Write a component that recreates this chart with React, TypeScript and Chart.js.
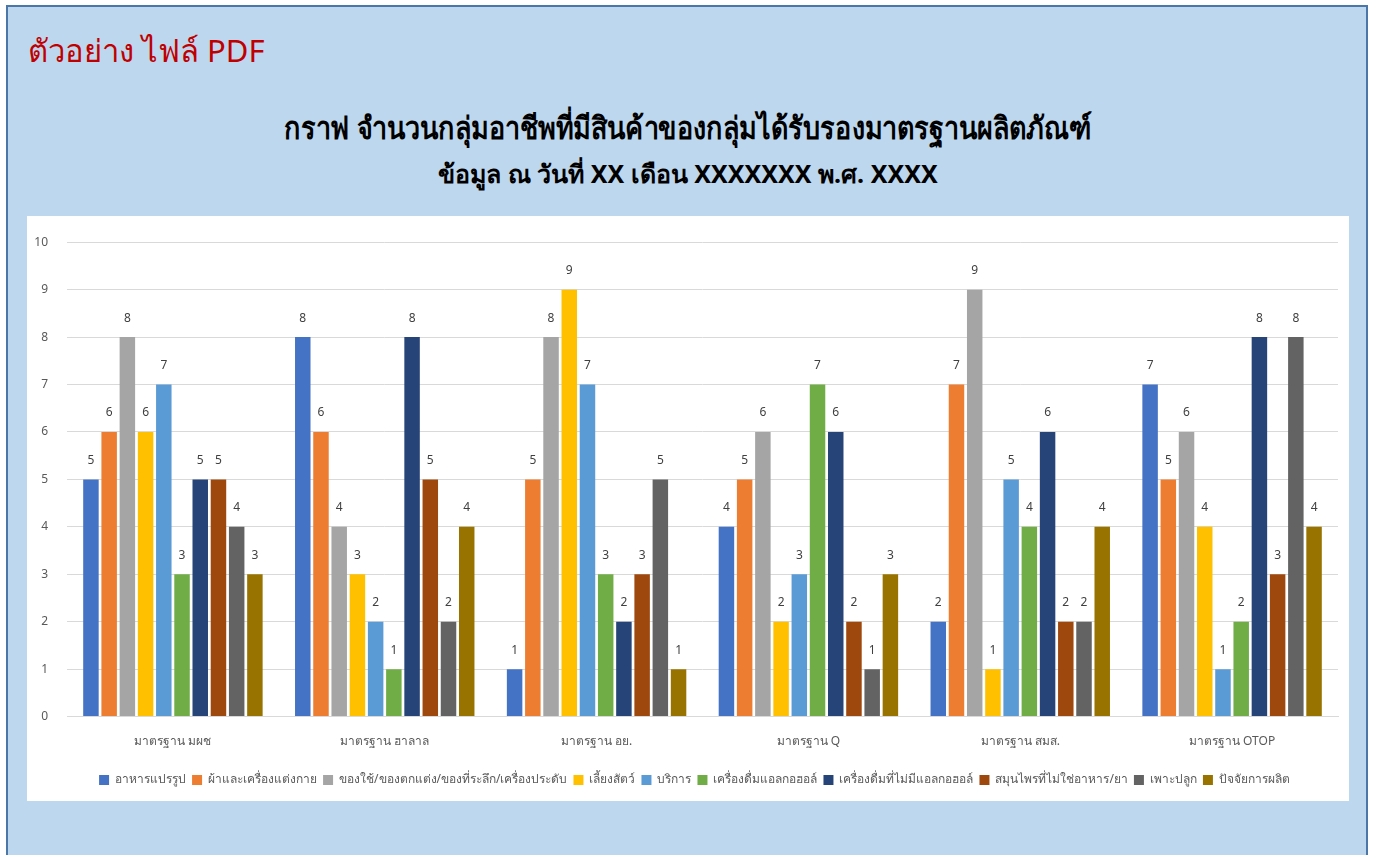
import React, { useEffect, useRef } from "react";
import { Chart, registerables } from "chart.js";

Chart.register(...registerables);

const categories = [
  "มาตรฐาน มผช",
  "มาตรฐาน ฮาลาล",
  "มาตรฐาน อย.",
  "มาตรฐาน Q",
  "มาตรฐาน สมส.",
  "มาตรฐาน OTOP",
];

const seriesNames = [
  "อาหารแปรรูป",
  "ผ้าและเครื่องแต่งกาย",
  "ของใช้/ของตกแต่ง/ของที่ระลึก/เครื่องประดับ",
  "เลี้ยงสัตว์",
  "บริการ",
  "เครื่องดื่มแอลกอฮอล์",
  "เครื่องดื่มที่ไม่มีแอลกอฮอล์",
  "สมุนไพรที่ไม่ใช่อาหาร/ยา",
  "เพาะปลูก",
  "ปัจจัยการผลิต",
];

const foodProcessed = [5, 8, 1, 4, 2, 7];
const textiles = [6, 6, 5, 5, 7, 5];
const souvenirs = [8, 4, 8, 6, 9, 6];
const livestock = [6, 3, 9, 2, 1, 4];
const services = [7, 2, 7, 3, 5, 1];
const alcoholic = [3, 1, 3, 7, 4, 2];
const nonAlcoholic = [5, 8, 2, 6, 6, 8];
const herbs = [5, 5, 3, 2, 2, 3];
const planting = [4, 2, 5, 1, 2, 8];
const production = [3, 4, 1, 3, 4, 4];

const seriesValues = [
  foodProcessed,
  textiles,
  souvenirs,
  livestock,
  services,
  alcoholic,
  nonAlcoholic,
  herbs,
  planting,
  production,
];

const seriesColors = [
  "#4472C4",
  "#ED7D31",
  "#A5A5A5",
  "#FFC000",
  "#5B9BD5",
  "#70AD47",
  "#264478",
  "#9E480E",
  "#636363",
  "#997300",
];

const yTicks = [0, 1, 2, 3, 4, 5, 6, 7, 8, 9, 10];

const FONT = "'Noto Sans', 'DejaVu Sans', sans-serif";

const valueLabels = {
  id: "valueLabels",
  afterDatasetsDraw(chart: any) {
    const ctx = chart.ctx;
    ctx.save();
    ctx.font = `12px ${FONT}`;
    ctx.fillStyle = "#404040";
    ctx.textAlign = "center";
    ctx.textBaseline = "bottom";
    chart.data.datasets.forEach((ds: any, i: number) => {
      const meta = chart.getDatasetMeta(i);
      meta.data.forEach((bar: any, j: number) => {
        ctx.fillText(String(ds.data[j]), bar.x, bar.y - 13);
      });
    });
    ctx.restore();
  },
};

const legendShift = {
  id: "legendShift",
  afterLayout(chart: any) {
    if (chart.legend) {
      chart.legend.left += 12;
      chart.legend.right += 12;
    }
  },
};

export default function App() {
  const canvasRef = useRef<HTMLCanvasElement | null>(null);

  useEffect(() => {
    document.body.style.margin = "0";
    const chart = new Chart(canvasRef.current as HTMLCanvasElement, {
      type: "bar",
      data: {
        labels: categories,
        datasets: seriesNames.map((name, i) => ({
          label: name,
          data: seriesValues[i],
          backgroundColor: seriesColors[i],
          borderWidth: 0,
          categoryPercentage: 0.86,
          barPercentage: 0.85,
        })),
      },
      options: {
        animation: false,
        responsive: true,
        maintainAspectRatio: false,
        layout: { padding: { left: 0, right: 11, top: 25, bottom: 5 } },
        plugins: {
          title: { display: false },
          tooltip: { enabled: false },
          legend: {
            position: "bottom",
            labels: {
              boxWidth: 10,
              boxHeight: 10,
              padding: 6,
              color: "#595959",
              font: { size: 12, family: FONT },
            },
          },
        },
        scales: {
          x: {
            grid: { display: false },
            border: { display: true, color: "#D9D9D9" },
            afterFit: (s: any) => {
              s.height += 9;
            },
            ticks: {
              color: "#595959",
              font: { size: 12, family: FONT },
              padding: 10,
            },
          },
          y: {
            min: 0,
            max: 10,
            afterFit: (s: any) => {
              s.width = 40;
            },
            afterBuildTicks: (s: any) => {
              s.ticks = yTicks.map((v) => ({ value: v }));
            },
            grid: { color: "#D9D9D9", drawTicks: false },
            border: { display: false },
            ticks: {
              color: "#595959",
              font: { size: 12, family: FONT },
              padding: 19,
            },
          },
        },
      },
      plugins: [valueLabels, legendShift],
    });
    return () => chart.destroy();
  }, []);

  return (
    <div
      style={{
        position: "absolute",
        left: 0,
        top: 0,
        width: 1374,
        height: 855,
        overflow: "hidden",
        background: "#fff",
      }}
    >
      <div
        style={{
          position: "absolute",
          left: 6,
          top: 5,
          width: 1362,
          height: 860,
          background: "#BDD7EE",
          border: "2px solid #4A76A8",
          boxSizing: "border-box",
        }}
      />
      <div
        style={{
          position: "absolute",
          left: 28,
          top: 26,
          fontFamily: FONT,
          fontSize: 31,
          color: "#C00000",
          fontWeight: "normal",
          whiteSpace: "nowrap",
        }}
      >
        ตัวอย่าง ไฟล์ PDF
      </div>
      <div
        style={{
          position: "absolute",
          left: 0,
          width: 1376,
          top: 103,
          textAlign: "center",
          fontFamily: FONT,
          fontSize: 31,
          fontWeight: "bold",
          color: "#000",
          whiteSpace: "nowrap",
          transform: "scaleX(0.87)",
          transformOrigin: "688px 0",
        }}
      >
        กราฟ จำนวนกลุ่มอาชีพที่มีสินค้าของกลุ่มได้รับรองมาตรฐานผลิตภัณฑ์
      </div>
      <div
        style={{
          position: "absolute",
          left: 0,
          width: 1376,
          top: 154,
          textAlign: "center",
          fontFamily: FONT,
          fontSize: 25,
          fontWeight: "bold",
          color: "#000",
          whiteSpace: "nowrap",
        }}
      >
        ข้อมูล ณ วันที่ XX เดือน XXXXXXX พ.ศ. XXXX
      </div>
      <div
        style={{
          position: "absolute",
          left: 27,
          top: 216,
          width: 1322,
          height: 585,
          background: "#fff",
        }}
      >
        <canvas ref={canvasRef} />
      </div>
    </div>
  );
}
